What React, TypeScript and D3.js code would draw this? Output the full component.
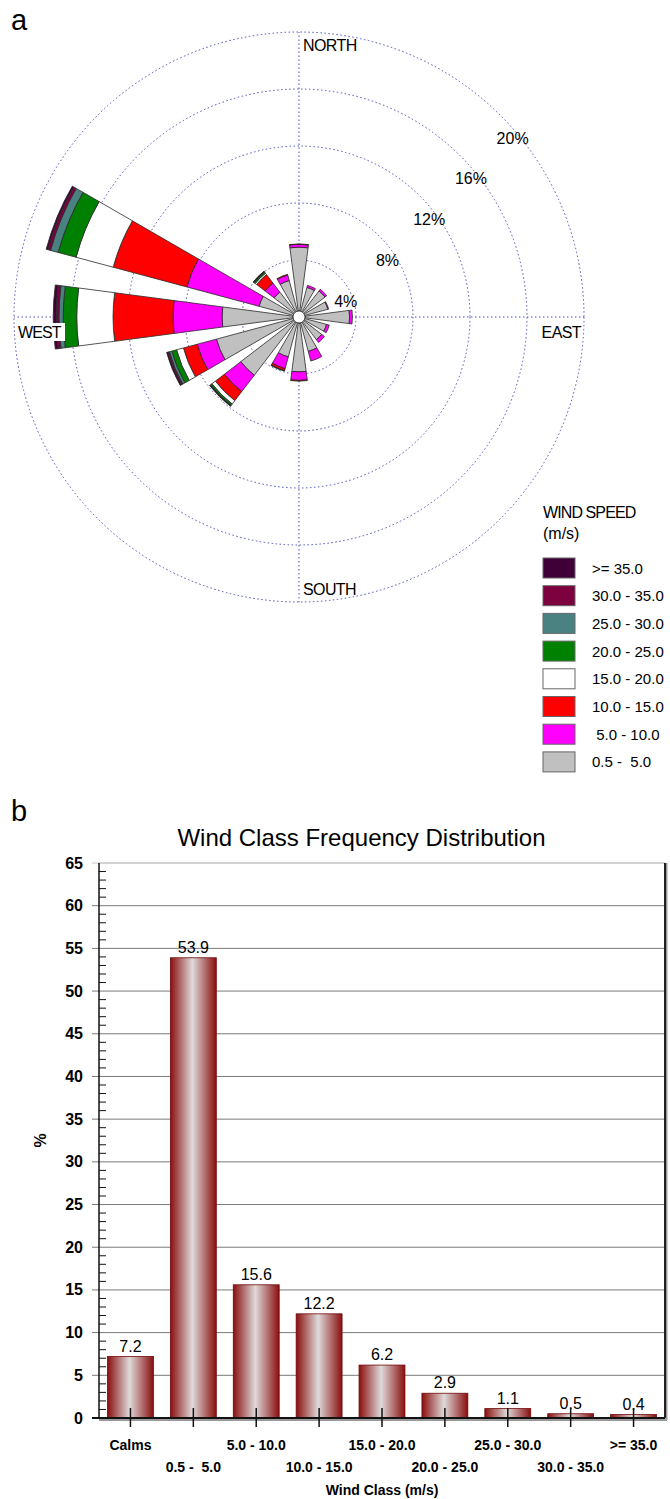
import React, { useEffect, useRef } from 'react';
import * as d3 from 'd3';

// wind rose: 16 directions, % of hours per speed class (m/s)
const directions = ["N", "NNE", "NE", "ENE", "E", "ESE", "SE", "SSE", "S", "SSW", "SW", "WSW", "W", "WNW", "NW", "NNW"];

const speed05to5 = [4.9, 2.15, 2.3, 2.1, 3.55, 2.0, 2.0, 2.5, 3.85, 2.9, 5.15, 6.0, 5.4, 2.9, 2.2, 2.65];
const speed5to10 = [0.2, 0.15, 0.15, 0.05, 0.2, 0.2, 0.25, 0.7, 0.6, 0.85, 1.45, 1.4, 3.45, 5.25, 0.8, 0.4];
const speed10to15 = [0.03, 0, 0, 0, 0, 0, 0, 0, 0.05, 0.15, 0.8, 1.0, 4.2, 5.35, 0.75, 0.05];
const speed15to20 = [0, 0, 0, 0, 0, 0, 0, 0, 0, 0, 0.3, 0.5, 2.55, 2.7, 0.12, 0];
const speed20to25 = [0, 0, 0, 0, 0, 0, 0, 0, 0, 0.03, 0.12, 0.35, 0.95, 1.3, 0.1, 0];
const speed25to30 = [0, 0, 0, 0, 0, 0, 0, 0, 0, 0, 0.03, 0.17, 0.3, 0.55, 0.03, 0];
const speed30to35 = [0, 0, 0, 0, 0, 0, 0, 0, 0, 0, 0.02, 0.1, 0.2, 0.2, 0.02, 0];
const speed35up = [0, 0, 0, 0, 0, 0, 0, 0, 0, 0, 0.03, 0.1, 0.2, 0.12, 0.02, 0];

const speedSeries = [speed05to5, speed5to10, speed10to15, speed15to20, speed20to25, speed25to30, speed30to35, speed35up];
const speedLabels = ["0.5 -  5.0", " 5.0 - 10.0", "10.0 - 15.0", "15.0 - 20.0", "20.0 - 25.0", "25.0 - 30.0", "30.0 - 35.0", ">= 35.0"];
const speedColors = ["#c0c0c0", "#ff00ff", "#ff0000", "#ffffff", "#008000", "#4a8282", "#7d003f", "#3f0038"];

const rings = [4, 8, 12, 16, 20];

// frequency distribution
const windClasses = ["Calms", "0.5 -  5.0", "5.0 - 10.0", "10.0 - 15.0", "15.0 - 20.0", "20.0 - 25.0", "25.0 - 30.0", "30.0 - 35.0", ">= 35.0"];
const classFreq = [7.2, 53.9, 15.6, 12.2, 6.2, 2.9, 1.1, 0.5, 0.4];
const yTicks = d3.range(0, 70, 5);

const FONT = "'Liberation Sans', Arial, sans-serif";

const App = () => {
    const ref = useRef<SVGSVGElement>(null);

    useEffect(() => {
        const svg = d3.select(ref.current);
        svg.selectAll("*").remove();
        svg.attr("font-family", FONT);

        // ---------- a: wind rose ----------
        const cx = 299, cy = 317;
        const r = d3.scaleLinear().domain([0, 20]).range([0, 285]);
        const hole = 6;
        const half = (7.5 * Math.PI) / 180;

        svg.append("text").attr("x", 11).attr("y", 30).attr("font-size", 29).text("a");

        const rose = svg.append("g").attr("transform", `translate(${cx},${cy})`);
        const gridColor = "#4e4ec0";

        rose.selectAll(".ring")
            .data(rings)
            .enter().append("circle")
            .attr("r", d => r(d))
            .attr("fill", "none")
            .attr("stroke", gridColor)
            .attr("stroke-width", 1)
            .attr("stroke-dasharray", "1.5,2.5");

        [[0, -1], [0, 1], [-1, 0], [1, 0]].forEach(([dx, dy]) => {
            rose.append("line")
                .attr("x1", 0).attr("y1", 0)
                .attr("x2", dx * r(20)).attr("y2", dy * r(20))
                .attr("stroke", gridColor)
                .attr("stroke-width", 1)
                .attr("stroke-dasharray", "1.5,2.5");
        });

        const arc = d3.arc<any>();
        directions.forEach((dir, i) => {
            const theta = (i * 22.5 * Math.PI) / 180;
            let cum = 0;
            speedSeries.forEach((series, j) => {
                const v = series[i];
                if (!v) return;
                const inner = Math.max(hole, r(cum));
                cum += v;
                const outer = r(cum);
                rose.append("path")
                    .attr("d", arc({ innerRadius: inner, outerRadius: outer, startAngle: theta - half, endAngle: theta + half }))
                    .attr("fill", speedColors[j])
                    .attr("stroke", "#2a2a2a")
                    .attr("stroke-width", 0.8);
            });
        });

        rose.append("circle").attr("r", hole).attr("fill", "white").attr("stroke", "#222").attr("stroke-width", 0.8);

        rose.selectAll(".ringLabel")
            .data(rings)
            .enter().append("text")
            .attr("x", d => 0.732 * r(d) + 5)
            .attr("y", d => -0.715 * r(d) + 25)
            .attr("text-anchor", "middle")
            .attr("dominant-baseline", "central")
            .attr("font-size", 16)
            .text(d => `${d}%`);

        rose.append("text").attr("x", 4).attr("y", -r(20) + 19).attr("font-size", 16).attr("letter-spacing", -0.6).text("NORTH");
        rose.append("text").attr("x", 4).attr("y", r(20) - 7).attr("font-size", 16).attr("letter-spacing", -0.6).text("SOUTH");
        rose.append("text").attr("x", r(20) - 3).attr("y", 21).attr("text-anchor", "end").attr("font-size", 16).attr("letter-spacing", -0.6).text("EAST");
        rose.append("rect").attr("x", -r(20) + 3).attr("y", 6).attr("width", 48).attr("height", 18).attr("fill", "white");
        rose.append("text").attr("x", -r(20) + 4).attr("y", 21).attr("font-size", 16).attr("letter-spacing", -0.9).text("WEST");

        // legend
        const legend = svg.append("g").attr("transform", "translate(543,0)");
        legend.append("text").attr("x", 0).attr("y", 518).attr("font-size", 16).attr("letter-spacing", -0.9).text("WIND SPEED");
        legend.append("text").attr("x", 0).attr("y", 539).attr("font-size", 16).text("(m/s)");
        const order = d3.range(speedLabels.length).reverse();
        order.forEach((j, k) => {
            const y = 558 + k * 27.7;
            legend.append("rect")
                .attr("x", 0).attr("y", y)
                .attr("width", 32).attr("height", 20)
                .attr("fill", speedColors[j])
                .attr("stroke", "#666")
                .attr("stroke-width", 1);
            legend.append("text")
                .attr("x", 49).attr("y", y + 15.5)
                .attr("font-size", 15)
                .style("white-space", "pre")
                .text(speedLabels[j]);
        });

        // ---------- b: frequency distribution ----------
        const left = 99, right = 665, top = 863, bottom = 1418;

        svg.append("text").attr("x", 11).attr("y", 821).attr("font-size", 29).text("b");
        svg.append("text")
            .attr("x", 361.5).attr("y", 846)
            .attr("text-anchor", "middle")
            .attr("font-size", 24)
            .text("Wind Class Frequency Distribution");

        const x = d3.scaleBand().domain(windClasses).range([left, right]).paddingInner(0.27).paddingOuter(0.135);
        const y = d3.scaleLinear().domain([0, 65]).range([bottom, top]);

        const defs = svg.append("defs");
        const grad = defs.append("linearGradient").attr("id", "barGrad").attr("x1", "0%").attr("x2", "100%").attr("y1", "0%").attr("y2", "0%");
        grad.append("stop").attr("offset", "0%").attr("stop-color", "#8a0e0e");
        grad.append("stop").attr("offset", "48%").attr("stop-color", "#dedada");
        grad.append("stop").attr("offset", "100%").attr("stop-color", "#8a0e0e");

        // gridlines
        svg.selectAll(".grid")
            .data(yTicks.filter(d => d > 0))
            .enter().append("line")
            .attr("x1", left - 7).attr("x2", right)
            .attr("y1", d => y(d)).attr("y2", d => y(d))
            .attr("stroke", d => (d === 65 ? "#c4c4c4" : "#7a7a7a"))
            .attr("stroke-width", 1);

        // minor ticks
        svg.selectAll(".minor")
            .data(d3.range(1, 65).filter(d => d % 5 !== 0))
            .enter().append("line")
            .attr("x1", left).attr("x2", left + 7)
            .attr("y1", d => y(d)).attr("y2", d => y(d))
            .attr("stroke", "#111")
            .attr("stroke-width", 1);

        svg.selectAll(".bar")
            .data(classFreq)
            .enter().append("rect")
            .attr("x", (d, i) => x(windClasses[i])!)
            .attr("y", d => y(d))
            .attr("width", x.bandwidth())
            .attr("height", d => bottom - y(d))
            .attr("fill", "url(#barGrad)")
            .attr("stroke", "#6e0a0a")
            .attr("stroke-width", 0.8);

        svg.selectAll(".val")
            .data(classFreq)
            .enter().append("text")
            .attr("x", (d, i) => x(windClasses[i])! + x.bandwidth() / 2)
            .attr("y", d => y(d) - 5)
            .attr("text-anchor", "middle")
            .attr("font-size", 16)
            .text(d => d3.format(".1f")(d));

        // frame
        svg.append("line").attr("x1", left).attr("x2", right).attr("y1", top).attr("y2", top).attr("stroke", "#c4c4c4");
        svg.append("line").attr("x1", right + 1.5).attr("x2", right + 1.5).attr("y1", top).attr("y2", bottom + 2).attr("stroke", "#9a9a9a").attr("stroke-width", 2);
        svg.append("line").attr("x1", right).attr("x2", right).attr("y1", top).attr("y2", bottom).attr("stroke", "#222").attr("stroke-width", 2);
        svg.append("line").attr("x1", left).attr("x2", right + 2).attr("y1", bottom + 2).attr("y2", bottom + 2).attr("stroke", "#9a9a9a").attr("stroke-width", 2);
        svg.append("line").attr("x1", left - 7).attr("x2", right).attr("y1", bottom).attr("y2", bottom).attr("stroke", "#111").attr("stroke-width", 2);
        svg.append("line").attr("x1", left).attr("x2", left).attr("y1", top).attr("y2", bottom).attr("stroke", "#111").attr("stroke-width", 1.5);

        // y tick labels
        svg.selectAll(".ylab")
            .data(yTicks)
            .enter().append("text")
            .attr("x", left - 16)
            .attr("y", d => y(d))
            .attr("text-anchor", "end")
            .attr("dominant-baseline", "central")
            .attr("font-size", 16)
            .attr("font-weight", "bold")
            .text(d => d);

        // x ticks & labels
        svg.selectAll(".xtick")
            .data(windClasses)
            .enter().append("line")
            .attr("x1", d => x(d)! + x.bandwidth() / 2)
            .attr("x2", d => x(d)! + x.bandwidth() / 2)
            .attr("y1", bottom - 10).attr("y2", bottom + 9)
            .attr("stroke", "#111")
            .attr("stroke-width", 1.5);

        svg.selectAll(".xlab")
            .data(windClasses)
            .enter().append("text")
            .attr("x", d => x(d)! + x.bandwidth() / 2)
            .attr("y", (d, i) => (i % 2 === 0 ? 1450 : 1472))
            .attr("text-anchor", "middle")
            .attr("font-size", 14)
            .attr("font-weight", "bold")
            .style("white-space", "pre")
            .text(d => d);

        svg.append("text")
            .attr("x", 382).attr("y", 1495)
            .attr("text-anchor", "middle")
            .attr("font-size", 14)
            .attr("font-weight", "bold")
            .text("Wind Class (m/s)");

        svg.append("text")
            .attr("transform", `translate(46,${(top + bottom) / 2}) rotate(-90)`)
            .attr("text-anchor", "middle")
            .attr("font-size", 16)
            .attr("font-weight", "bold")
            .text("%");
    }, []);

    return <svg ref={ref} width={670} height={1499} style={{ position: "absolute", left: 0, top: 0, background: "white" }} />;
};

export default App;
